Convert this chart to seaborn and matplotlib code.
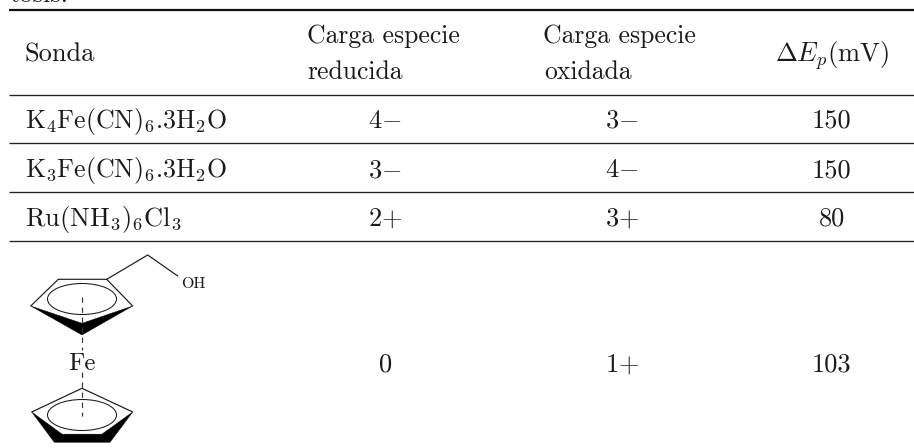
"""Redox probes table (sonda, charges, peak separation)."""

import matplotlib

matplotlib.use("Agg")
import matplotlib.pyplot as plt
import seaborn as sns
from matplotlib.patches import Ellipse, Polygon

sns.set_theme(style="white")
plt.rcParams["font.family"] = ["cmr10", "DejaVu Sans"]
plt.rcParams["mathtext.fontset"] = "cm"
plt.rcParams["axes.unicode_minus"] = False

# table contents
sondas = [
    r"$\mathrm{K_4Fe(CN)_6.3H_2O}$",
    r"$\mathrm{K_3Fe(CN)_6.3H_2O}$",
    r"$\mathrm{Ru(NH_3)_6Cl_3}$",
]
sonda_sizes = [18.6, 18.6, 19]
carga_reducida = ["$4{-}$", "$3{-}$", "$2{+}$", "$0$"]
carga_oxidada = ["$3{-}$", "$4{-}$", "$3{+}$", "$1{+}$"]
delta_ep = ["150", "150", "80", "103"]
header_sonda = "Sonda"
header_reducida = ["Carga especie", "reducida"]
header_oxidada = ["Carga especie", "oxidada"]
header_delta = r"$\Delta E_p(\mathrm{mV})$"

FS = 19
INK = "#1a1a1a"

fig = plt.figure(figsize=(9.14, 4.48), dpi=100)
ax = fig.add_axes([0, 0, 1, 1])
ax.set_xlim(0, 914)
ax.set_ylim(448, 0)
ax.axis("off")

# rules
ax.hlines(10.5, 9, 914, color="#111111", lw=1.6)
ax.hlines([95, 143.5, 192.5, 241.5], 9, 914, color="#222222", lw=0.95)


def put(x, y, s, ha="center", size=FS):
    ax.text(x, y, s, ha=ha, va="baseline", fontsize=size, color=INK)


# cut-off line of the text above the table
put(9, 1.5, "tosis.", ha="left")

# header
put(25, 62, header_sonda, ha="left")
put(307, 43, header_reducida[0], ha="left", size=18.5)
put(307, 79, header_reducida[1], ha="left", size=18.5)
put(543, 43, header_oxidada[0], ha="left", size=18.5)
put(544, 79, header_oxidada[1], ha="left", size=18.5)
put(832, 62, header_delta)

# body
baselines = [128, 177, 226, 372]
for i, s in enumerate(sondas):
    put(25, baselines[i], s, ha="left", size=sonda_sizes[i])
for y, red, ox, dep in zip(baselines, carga_reducida, carga_oxidada, delta_ep):
    put(385, y, red)
    put(622, y, ox)
    put(832, y, dep)

# ferrocene sketch
line_kw = dict(color="#1a1a1a", lw=0.85, solid_capstyle="round")
ax.plot([30.7, 58.3, 106.7, 132.7], [306, 279.3, 279.3, 306], **line_kw)
ax.plot([106.7, 147.7, 177.7], [279.3, 255, 276], **line_kw)
ax.add_patch(Polygon([(30.7, 306), (82, 323.3), (132.7, 306), (82, 335)],
                     closed=True, fc="black", ec="black", lw=0.3))
ax.add_patch(Ellipse((82, 299), 69, 31, fc="none", ec="#1a1a1a", lw=0.75))
ax.plot([31.7, 82, 132.7], [412, 388.3, 412], **line_kw)
ax.plot([62.3, 101.7], [434.3, 434.3], **line_kw)
ax.add_patch(Polygon([(31.7, 412), (62.3, 434.3), (101.7, 434.3), (132.7, 412),
                      (110, 442.3), (54.3, 442.3)],
                     closed=True, fc="black", ec="black", lw=0.3))
ax.add_patch(Ellipse((82, 415), 69, 31, fc="none", ec="#1a1a1a", lw=0.75))
dash_kw = dict(color="#333333", lw=0.85, dashes=(4.5, 4))
ax.plot([82, 82], [297, 350], **dash_kw)
ax.plot([82, 82], [372, 416], **dash_kw)
ax.text(82, 369.5, "Fe", ha="center", va="baseline", fontsize=18, color=INK)
ax.text(181, 288, "OH", ha="left", va="baseline", fontsize=11.5, color=INK)

sns.despine(ax=ax, left=True, bottom=True)
fig.savefig("out.png", dpi=100)
